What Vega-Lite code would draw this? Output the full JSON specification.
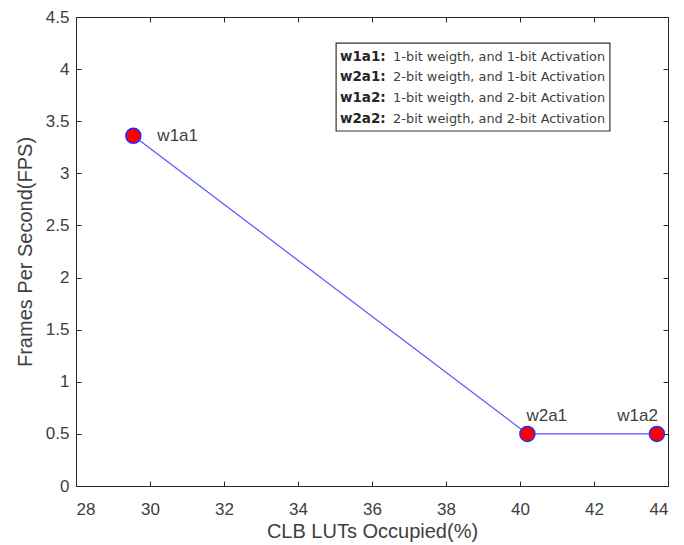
{
  "$schema": "https://vega.github.io/schema/vega-lite/v6.json",
  "width": 592,
  "height": 469,
  "autosize": {"type": "none"},
  "padding": {"left": 76, "top": 17, "right": 16, "bottom": 59},
  "background": "white",
  "config": {
    "font": "Liberation Sans",
    "view": {"stroke": "#262626", "strokeWidth": 1},
    "axis": {
      "grid": false,
      "domainColor": "#262626",
      "tickColor": "#262626",
      "labelColor": "#404040",
      "titleColor": "#404040",
      "labelFont": "Liberation Sans",
      "titleFont": "Liberation Sans",
      "labelFontSize": 17,
      "titleFontSize": 20,
      "titleFontWeight": "normal",
      "tickSize": -5
    }
  },
  "datasets": {
    "pts": [
      {"lut": 29.55, "fps": 3.36, "name": "w1a1"},
      {"lut": 40.2, "fps": 0.5, "name": "w2a1"},
      {"lut": 43.7, "fps": 0.5, "name": "w1a2"}
    ],
    "legend": [
      {"kx": 35.135, "dx0": 36.57, "ly": 4.116, "key": "w1a1:", "desc": "1-bit weigth, and 1-bit Activation"},
      {"kx": 35.135, "dx0": 36.57, "ly": 3.92, "key": "w2a1:", "desc": "2-bit weigth, and 1-bit Activation"},
      {"kx": 35.135, "dx0": 36.57, "ly": 3.723, "key": "w1a2:", "desc": "1-bit weigth, and 2-bit Activation"},
      {"kx": 35.135, "dx0": 36.57, "ly": 3.526, "key": "w2a2:", "desc": "2-bit weigth, and 2-bit Activation"}
    ],
    "box": [
      {"x1": 35.03, "x2": 42.43, "y1": 3.406, "y2": 4.25}
    ]
  },
  "resolve": {"axis": {"x": "independent", "y": "independent"}},
  "layer": [
    {
      "data": {"name": "pts"},
      "mark": {"type": "line", "color": "#5555ff", "strokeWidth": 1.2},
      "encoding": {
        "x": {
          "field": "lut", "type": "quantitative",
          "scale": {"domain": [28, 44], "nice": false, "zero": false},
          "axis": {"values": [28, 30, 32, 34, 36, 38, 40, 42, 44], "title": "CLB LUTs Occupied(%)", "labelPadding": 20, "titlePadding": 4, "orient": "bottom"}
        },
        "y": {
          "field": "fps", "type": "quantitative",
          "scale": {"domain": [0, 4.5], "nice": false},
          "axis": {"values": [0, 0.5, 1, 1.5, 2, 2.5, 3, 3.5, 4, 4.5], "format": ".1~f", "title": "Frames Per Second(FPS)", "labelPadding": 12, "titlePadding": 10, "orient": "left"}
        }
      }
    },
    {
      "data": {"name": "pts"},
      "mark": {"type": "point", "shape": "circle", "filled": true, "fill": "#ff0000", "stroke": "#2a2aff", "strokeWidth": 1.5, "size": 225, "opacity": 1},
      "encoding": {
        "x": {"field": "lut", "type": "quantitative", "axis": {"orient": "top", "labels": false, "title": null, "values": [28, 30, 32, 34, 36, 38, 40, 42, 44]}},
        "y": {"field": "fps", "type": "quantitative", "axis": {"orient": "right", "labels": false, "title": null, "values": [0, 0.5, 1, 1.5, 2, 2.5, 3, 3.5, 4, 4.5]}}
      }
    },
    {
      "data": {"name": "pts"},
      "transform": [{"filter": "datum.name === 'w1a1'"}],
      "mark": {"type": "text", "align": "left", "baseline": "middle", "dx": 24, "dy": 0, "fontSize": 17, "color": "#404040"},
      "encoding": {
        "x": {"field": "lut", "type": "quantitative", "axis": null},
        "y": {"field": "fps", "type": "quantitative", "axis": null},
        "text": {"field": "name"}
      }
    },
    {
      "data": {"name": "pts"},
      "transform": [{"filter": "datum.name === 'w2a1'"}],
      "mark": {"type": "text", "align": "left", "baseline": "middle", "dx": -1, "dy": -18, "fontSize": 17, "color": "#404040"},
      "encoding": {
        "x": {"field": "lut", "type": "quantitative", "axis": null},
        "y": {"field": "fps", "type": "quantitative", "axis": null},
        "text": {"field": "name"}
      }
    },
    {
      "data": {"name": "pts"},
      "transform": [{"filter": "datum.name === 'w1a2'"}],
      "mark": {"type": "text", "align": "right", "baseline": "middle", "dx": 1, "dy": -18, "fontSize": 17, "color": "#404040"},
      "encoding": {
        "x": {"field": "lut", "type": "quantitative", "axis": null},
        "y": {"field": "fps", "type": "quantitative", "axis": null},
        "text": {"field": "name"}
      }
    },
    {
      "data": {"name": "box"},
      "mark": {"type": "rect", "fill": "white", "stroke": "#333333", "strokeWidth": 1.2},
      "encoding": {
        "x": {"field": "x1", "type": "quantitative", "axis": null},
        "x2": {"field": "x2"},
        "y": {"field": "y1", "type": "quantitative", "axis": null},
        "y2": {"field": "y2"}
      }
    },
    {
      "data": {"name": "legend"},
      "mark": {"type": "text", "align": "left", "baseline": "middle", "font": "DejaVu Sans", "fontSize": 13.5, "fontWeight": "bold", "color": "#262626"},
      "encoding": {
        "x": {"field": "kx", "type": "quantitative", "axis": null},
        "y": {"field": "ly", "type": "quantitative", "axis": null},
        "text": {"field": "key"}
      }
    },
    {
      "data": {"name": "legend"},
      "mark": {"type": "text", "align": "left", "baseline": "middle", "font": "DejaVu Sans", "fontSize": 12.9, "color": "#404040"},
      "encoding": {
        "x": {"field": "dx0", "type": "quantitative", "axis": null},
        "y": {"field": "ly", "type": "quantitative", "axis": null},
        "text": {"field": "desc"}
      }
    }
  ]
}
